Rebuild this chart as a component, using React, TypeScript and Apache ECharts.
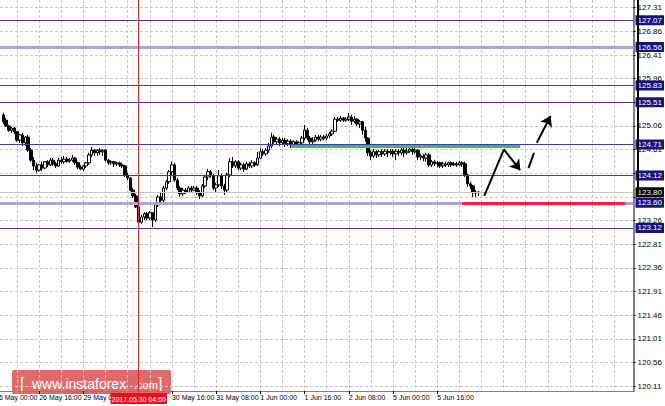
import React, { useEffect, useRef } from 'react';
import * as echarts from 'echarts';

// trading days (H1 bars, weekends skipped)
const tradingDays = ['26 May', '29 May', '30 May', '31 May', '1 Jun', '2 Jun', '5 Jun', '6 Jun', '7 Jun', '8 Jun'];
const categoryCount = 232;
const firstBarIndex = 3;

const timeLabels = [
  '26 May 00:00', '26 May 16:00', '29 May 08:00', '30 May 16:00',
  '31 May 08:00', '1 Jun 00:00', '1 Jun 16:00', '2 Jun 08:00', '5 Jun 00:00', '5 Jun 16:00',
];

const priceTicks = [
  120.11, 120.56, 121.01, 121.46, 121.91, 122.36, 122.81, 123.26, 123.71,
  124.16, 124.61, 125.06, 125.51, 125.96, 126.41, 126.86, 127.31,
];

// [open, close, low, high] from 26 May 03:00 to 6 Jun 07:00
const candles: number[][] = [
  [125.27, 125.14, 125.10, 125.31], [125.17, 125.06, 125.04, 125.21], [125.06, 124.98, 124.95, 125.08],
  [124.98, 125.02, 124.93, 125.04], [125.02, 124.95, 124.91, 125.04], [124.95, 124.79, 124.76, 124.96],
  [124.79, 124.89, 124.74, 124.91], [124.89, 124.74, 124.68, 124.93], [124.74, 124.85, 124.68, 124.87],
  [124.85, 124.60, 124.57, 124.89], [124.60, 124.41, 124.38, 124.64], [124.41, 124.30, 124.22, 124.47],
  [124.30, 124.22, 124.17, 124.36], [124.22, 124.32, 124.19, 124.34], [124.32, 124.26, 124.20, 124.38],
  [124.26, 124.38, 124.24, 124.39], [124.38, 124.32, 124.28, 124.41], [124.32, 124.41, 124.30, 124.45],
  [124.41, 124.34, 124.30, 124.45], [124.34, 124.30, 124.26, 124.38], [124.30, 124.41, 124.28, 124.45],
  [124.41, 124.38, 124.34, 124.47], [124.38, 124.43, 124.34, 124.49], [124.43, 124.39, 124.36, 124.47],
  [124.39, 124.41, 124.36, 124.45], [124.41, 124.45, 124.38, 124.51], [124.45, 124.36, 124.32, 124.47],
  [124.36, 124.28, 124.24, 124.38], [124.28, 124.24, 124.22, 124.32], [124.24, 124.30, 124.20, 124.32],
  [124.30, 124.36, 124.26, 124.38], [124.36, 124.51, 124.32, 124.55], [124.51, 124.60, 124.47, 124.66],
  [124.60, 124.55, 124.49, 124.62], [124.55, 124.60, 124.49, 124.62], [124.60, 124.57, 124.51, 124.64],
  [124.57, 124.60, 124.49, 124.62], [124.60, 124.41, 124.38, 124.62], [124.41, 124.36, 124.32, 124.43],
  [124.36, 124.38, 124.32, 124.41], [124.38, 124.34, 124.28, 124.39], [124.34, 124.36, 124.30, 124.38],
  [124.36, 124.32, 124.28, 124.38], [124.32, 124.30, 124.26, 124.36], [124.30, 124.13, 124.09, 124.32],
  [124.13, 124.07, 124.03, 124.17], [124.07, 123.84, 123.82, 124.09], [123.84, 123.73, 123.69, 123.88],
  [123.73, 123.52, 123.50, 123.77], [123.52, 123.23, 123.20, 123.56], [123.23, 123.33, 123.20, 123.37],
  [123.33, 123.39, 123.27, 123.42], [123.39, 123.31, 123.27, 123.42], [123.31, 123.41, 123.27, 123.44],
  [123.41, 123.27, 123.14, 123.42], [123.27, 123.56, 123.23, 123.58], [123.56, 123.71, 123.52, 123.75],
  [123.71, 123.65, 123.60, 123.80], [123.65, 123.88, 123.61, 123.92], [123.88, 124.00, 123.84, 124.03],
  [124.00, 124.19, 123.96, 124.22], [124.19, 124.32, 124.13, 124.38], [124.32, 124.03, 124.00, 124.36],
  [124.03, 123.88, 123.84, 124.07], [123.88, 123.77, 123.71, 123.92], [123.77, 123.84, 123.73, 123.88],
  [123.84, 123.80, 123.77, 123.88], [123.80, 123.88, 123.79, 123.92], [123.88, 123.84, 123.80, 123.92],
  [123.84, 123.88, 123.82, 123.92], [123.88, 123.79, 123.75, 123.92], [123.79, 123.73, 123.67, 123.84],
  [123.73, 123.92, 123.71, 123.96], [123.92, 124.09, 123.88, 124.13], [124.09, 124.19, 124.03, 124.24],
  [124.19, 124.11, 124.07, 124.22], [124.11, 123.88, 123.84, 124.15], [123.88, 123.94, 123.80, 123.98],
  [123.94, 124.11, 123.90, 124.22], [124.11, 123.92, 123.86, 124.15], [123.92, 123.84, 123.75, 123.96],
  [123.84, 124.13, 123.80, 124.17], [124.13, 124.38, 124.09, 124.45], [124.38, 124.30, 124.26, 124.47],
  [124.30, 124.38, 124.26, 124.41], [124.38, 124.26, 124.22, 124.41], [124.26, 124.32, 124.22, 124.36],
  [124.32, 124.24, 124.19, 124.36], [124.24, 124.34, 124.22, 124.38], [124.34, 124.30, 124.26, 124.38],
  [124.30, 124.36, 124.26, 124.41], [124.36, 124.32, 124.28, 124.39], [124.32, 124.45, 124.30, 124.57],
  [124.45, 124.57, 124.43, 124.64], [124.57, 124.53, 124.49, 124.62], [124.53, 124.60, 124.49, 124.64],
  [124.60, 124.68, 124.55, 124.74], [124.68, 124.85, 124.64, 124.93], [124.85, 124.76, 124.72, 124.89],
  [124.76, 124.81, 124.70, 124.85], [124.81, 124.74, 124.68, 124.85], [124.74, 124.79, 124.70, 124.83],
  [124.79, 124.72, 124.66, 124.83], [124.72, 124.77, 124.68, 124.81], [124.77, 124.70, 124.64, 124.81],
  [124.70, 124.76, 124.66, 124.79], [124.76, 124.68, 124.64, 124.79], [124.68, 124.74, 124.64, 124.77],
  [124.74, 124.83, 124.70, 124.87], [124.83, 124.98, 124.79, 125.08], [124.98, 124.83, 124.79, 125.02],
  [124.83, 124.76, 124.70, 124.87], [124.76, 124.79, 124.70, 124.85], [124.79, 124.85, 124.76, 124.89],
  [124.85, 124.81, 124.77, 124.89], [124.81, 124.85, 124.77, 124.89], [124.85, 124.83, 124.79, 124.89],
  [124.83, 124.87, 124.79, 124.91], [124.87, 124.91, 124.83, 124.95], [124.91, 124.96, 124.87, 125.00],
  [124.96, 125.19, 124.95, 125.23], [125.19, 125.17, 125.14, 125.23], [125.17, 125.21, 125.14, 125.25],
  [125.21, 125.17, 125.14, 125.23], [125.17, 125.19, 125.14, 125.23], [125.19, 125.23, 125.15, 125.31],
  [125.23, 125.15, 125.08, 125.27], [125.15, 125.19, 125.12, 125.25], [125.19, 125.10, 125.06, 125.21],
  [125.10, 125.14, 125.02, 125.17], [125.14, 124.98, 124.89, 125.15], [124.98, 124.83, 124.76, 125.04],
  [124.83, 124.55, 124.49, 124.85], [124.55, 124.49, 124.41, 124.60], [124.49, 124.57, 124.45, 124.62],
  [124.57, 124.51, 124.45, 124.60], [124.51, 124.57, 124.47, 124.60], [124.57, 124.53, 124.47, 124.62],
  [124.53, 124.58, 124.49, 124.62], [124.58, 124.55, 124.47, 124.62], [124.55, 124.58, 124.51, 124.62],
  [124.58, 124.53, 124.47, 124.62], [124.53, 124.58, 124.41, 124.62], [124.58, 124.55, 124.49, 124.62],
  [124.55, 124.60, 124.51, 124.64], [124.60, 124.55, 124.47, 124.64], [124.55, 124.58, 124.51, 124.64],
  [124.58, 124.62, 124.55, 124.66], [124.62, 124.57, 124.51, 124.66], [124.57, 124.60, 124.53, 124.64],
  [124.60, 124.47, 124.41, 124.62], [124.47, 124.49, 124.41, 124.53], [124.49, 124.45, 124.39, 124.53],
  [124.45, 124.51, 124.38, 124.55], [124.51, 124.32, 124.28, 124.55], [124.32, 124.38, 124.28, 124.41],
  [124.38, 124.34, 124.30, 124.41], [124.34, 124.36, 124.28, 124.39], [124.36, 124.30, 124.26, 124.38],
  [124.30, 124.34, 124.26, 124.38], [124.34, 124.32, 124.28, 124.38], [124.32, 124.36, 124.28, 124.38],
  [124.36, 124.32, 124.28, 124.38], [124.32, 124.34, 124.30, 124.38], [124.34, 124.32, 124.28, 124.38],
  [124.32, 124.36, 124.30, 124.39], [124.36, 124.34, 124.28, 124.39], [124.34, 124.13, 124.09, 124.38],
  [124.13, 123.96, 123.90, 124.15], [123.96, 123.92, 123.86, 124.00], [123.92, 123.79, 123.71, 123.94],
  [123.79, 123.80, 123.71, 123.84], [123.80, 123.80, 123.73, 123.82],
];

const levels = [127.07, 126.56, 125.83, 125.51, 124.71, 124.12, 123.60, 123.12];
const strongLevels = [126.56, 123.60];
const lastPrice = 123.80;

const crosshairTime = '30 May 04:00';
const crosshairLabel = '2017.05.30 04:00';

const greenZone = { from: '1 Jun 11:00', to: '6 Jun 22:00', price: 124.67 };
const redZone = { from: '6 Jun 01:00', to: '8 Jun 12:00', price: 123.60 };

// forecast arrows: [fromTime, fromPrice, toTime, toPrice, hasHead]
const arrows: [string, number, string, number, boolean][] = [
  ['6 Jun 09:00', 123.73, '6 Jun 16:00', 124.60, false],
  ['6 Jun 16:00', 124.62, '6 Jun 22:00', 124.22, true],
  ['7 Jun 01:00', 124.26, '7 Jun 03:00', 124.55, false],
  ['7 Jun 04:00', 124.74, '7 Jun 09:00', 125.25, true],
];

const FONT = "'Liberation Sans Narrow', 'Liberation Sans', Arial, sans-serif";
const SHIFT = 8; // the chart canvas starts 8px left of the page so the first label is cut

function buildCategories(): string[] {
  const out: string[] = [];
  for (const d of tradingDays) {
    for (let hr = 0; hr < 24; hr++) out.push(`${d} ${String(hr).padStart(2, '0')}:00`);
  }
  return out.slice(0, categoryCount);
}

export default function App() {
  const ref = useRef<HTMLDivElement>(null);

  useEffect(() => {
    if (!ref.current) return;
    const chart = echarts.init(ref.current, undefined, { renderer: 'svg' });
    const categories = buildCategories();
    const labelSet = new Set(timeLabels);
    const seriesData: any[] = [];
    for (let i = 0; i < firstBarIndex; i++) seriesData.push('-');
    candles.forEach((c) => seriesData.push(c));

    const boxLabel = (text: string, bg: string) => ({
      show: true, position: 'end', formatter: text, distance: 2,
      backgroundColor: bg, color: '#ffffff', fontSize: 8, fontFamily: FONT,
      padding: [1, 2, 0, 2], lineHeight: 9,
    });

    const levelLines = levels.map((v) => ({
      yAxis: v,
      lineStyle: strongLevels.includes(v)
        ? { color: '#a6a6da', width: 3, type: 'solid' }
        : { color: '#3b3ba8', width: 1, type: 'solid' },
      label: boxLabel(v.toFixed(2), '#14147c'),
    }));

    const markData: any[] = [
      ...levelLines,
      {
        yAxis: lastPrice,
        lineStyle: { color: '#c4c4c4', width: 1, type: 'solid' },
        label: boxLabel(lastPrice.toFixed(2), '#000000'),
      },
      [
        { coord: [greenZone.from, greenZone.price], lineStyle: { color: '#42b957', width: 3, type: 'solid' }, label: { show: false } },
        { coord: [greenZone.to, greenZone.price] },
      ],
      [
        { coord: [redZone.from, redZone.price], lineStyle: { color: '#e0283a', width: 3, type: 'solid' }, label: { show: false } },
        { coord: [redZone.to, redZone.price] },
      ],
      ...arrows.map(([t1, p1, t2, p2, head]) => [
        { coord: [t1, p1], symbol: 'none', lineStyle: { color: '#000000', width: 2, type: 'solid' }, label: { show: false } },
        { coord: [t2, p2], symbol: head ? 'arrow' : 'none', symbolSize: 10 },
      ]),
      {
        xAxis: crosshairTime,
        lineStyle: { color: '#e32020', width: 1, type: 'solid' },
        label: {
          show: true, position: 'start', formatter: crosshairLabel, distance: 2,
          backgroundColor: '#e8101c', color: '#ffffff', fontSize: 7, fontFamily: FONT,
          padding: [2, 1, 1, 1], lineHeight: 8,
        },
      },
    ];

    const option: any = {
      animation: false,
      backgroundColor: '#ffffff',
      grid: { left: 0, right: 27, top: 0, bottom: 15, containLabel: false },
      xAxis: {
        type: 'category',
        data: categories,
        boundaryGap: false,
        axisLine: { show: true, lineStyle: { color: '#808080', width: 1 } },
        axisTick: {
          show: true, length: 3, interval: (_i: number, v: string) => labelSet.has(v),
          lineStyle: { color: '#000000' },
        },
        axisLabel: {
          show: true, interval: (_i: number, v: string) => labelSet.has(v), align: 'left',
          showMinLabel: true, hideOverlap: false,
          margin: 3, fontSize: 7, fontFamily: FONT, color: '#000000',
        },
        splitLine: {
          show: true, interval: (i: number) => i % 8 === 0,
          lineStyle: { color: '#c8c8c8', width: 1, type: [3, 2] },
        },
      },
      yAxis: {
        type: 'value',
        position: 'right',
        min: 120.02,
        max: 127.456,
        axisLine: { show: true, lineStyle: { color: '#808080', width: 2 } },
        axisTick: { show: true, length: 2, customValues: priceTicks, lineStyle: { color: '#000000' } },
        axisLabel: {
          show: true, customValues: priceTicks, formatter: (v: number) => v.toFixed(2),
          margin: 4, fontSize: 8, fontFamily: FONT, color: '#000000',
        },
        splitLine: { show: true, lineStyle: { color: '#c8c8c8', width: 1, type: [3, 2] } },
      },
      series: [
        {
          type: 'candlestick',
          data: seriesData,
          barWidth: 3,
          itemStyle: {
            color: '#ffffff', color0: '#000000',
            borderColor: '#000000', borderColor0: '#000000', borderWidth: 1,
          },
          markLine: {
            silent: true,
            symbol: ['none', 'none'],
            animation: false,
            emphasis: { disabled: true },
            data: markData,
          },
        },
      ],
      graphic: [
        {
          type: 'line', z: 100,
          shape: { x1: 638 + SHIFT, y1: 0, x2: 638 + SHIFT, y2: 192 },
          style: { stroke: '#000000', lineWidth: 2 },
        },
        {
          type: 'group', left: 12 + SHIFT, top: 370, z: 1,
          children: [
            { type: 'rect', shape: { x: 0, y: 0, width: 159, height: 24, r: 2 }, style: { fill: 'rgba(218,72,72,0.82)' } },
            { type: 'text', x: 8, y: 21, style: { text: '[', fill: '#ffffff', font: '16px Liberation Sans', verticalAlign: 'bottom' } },
            { type: 'text', x: 20, y: 21, style: { text: 'www.instaforex', fill: '#ffffff', font: '14px Liberation Sans', verticalAlign: 'bottom' } },
            { type: 'text', x: 122, y: 20, style: { text: '.com', fill: '#ffffff', font: '11px Liberation Sans', verticalAlign: 'bottom' } },
            { type: 'text', x: 146, y: 21, style: { text: ']', fill: '#ffffff', font: '16px Liberation Sans', verticalAlign: 'bottom' } },
          ],
        },
      ],
    };

    chart.setOption(option);
    return () => chart.dispose();
  }, []);

  return (
    <div
      ref={ref}
      style={{ position: 'fixed', left: -SHIFT, top: 0, width: 665 + SHIFT, height: 406, background: '#ffffff' }}
    />
  );
}
